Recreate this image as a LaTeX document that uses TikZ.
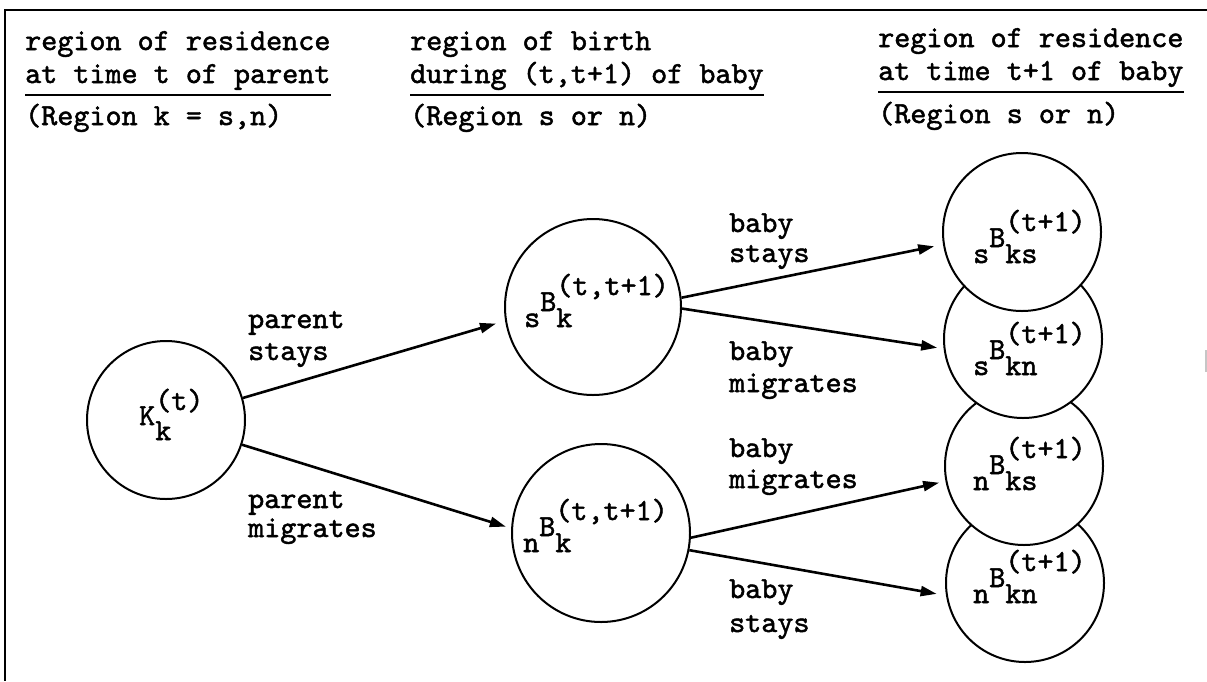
\documentclass[tikz,border=0pt]{standalone}
\usepackage{fontspec}
\newfontfamily\tw{lmmono10-regular.otf}[BoldFont=lmmono10-regular.otf,BoldFeatures={FakeBold=1.6}]
\usetikzlibrary{arrows.meta}
\newcommand\twsz{\fontsize{30.6pt}{34pt}\selectfont}
\newcommand\mybB[3]{#1\raisebox{16pt}{B\rlap{\raisebox{-16pt}{#2}}\raisebox{16pt}{#3}}}
\newcommand\myK{K\rlap{\raisebox{-15pt}{k}}\raisebox{15pt}{(t)}}
\begin{document}
\begin{tikzpicture}[x=1pt,y=-1pt,
  txt/.style={font=\tw\bfseries\twsz, anchor=base west, inner sep=0pt},
  circ/.style={circle, draw, fill=white, line width=2pt, inner sep=0pt},
  arr/.style={line width=2.6pt, -{Triangle[length=16pt,width=10pt]}},
  rulel/.style={line width=2.4pt}]
\useasboundingbox (0,0) rectangle (1207,681);
\fill[white] (0,0) rectangle (1207,681);
% frame
\coordinate (ftl) at (5,10);
\coordinate (ftr) at (1207,10);
\coordinate (fbl) at (5,681);
\draw[line width=2.6pt] (ftr) -- (ftl) -- (fbl);
\coordinate (m1) at (1205.5,350);
\coordinate (m2) at (1205.5,372);
\draw[gray!45, line width=2pt] (m1) -- (m2);
% circles
\node[circ, minimum size=158pt] (K) at (166,420) {};
\node[circ, minimum size=176pt] (sB) at (593,307) {};
\node[circ, minimum size=178pt] (nB) at (601,533) {};
\node[circ, minimum size=158pt] (nBkn) at (1025,583) {};
\node[circ, minimum size=158pt] (nBks) at (1024,466) {};
\node[circ, minimum size=158pt] (sBkn) at (1023,339) {};
\node[circ, minimum size=158pt] (sBks) at (1022,232) {};
% circle labels
\node[txt] (Klab) at (139,425) {\myK};
\node[txt] (sBlab) at (524,327) {\mybB{s}{k}{(t,t+1)}};
\node[txt] (nBlab) at (523,552) {\mybB{n}{k}{(t,t+1)}};
\node[txt] (sBkslab) at (973,263) {\mybB{s}{ks}{(t+1)}};
\node[txt] (sBknlab) at (973,375) {\mybB{s}{kn}{(t+1)}};
\node[txt] (nBkslab) at (973,490) {\mybB{n}{ks}{(t+1)}};
\node[txt] (nBknlab) at (973,603) {\mybB{n}{kn}{(t+1)}};
% headers
\node[txt] (h1a) at (25,50) {region of residence};
\node[txt] (h1b) at (25,83) {at time t of parent};
\node[txt] (h1c) at (25,125) {(Region k = s,n)};
\draw[rulel] ([yshift=-12pt]h1b.base west) -- ([yshift=-12pt]h1b.base east);
\node[txt] (h2a) at (410,50) {region of birth};
\node[txt] (h2b) at (410,83) {during (t,t+1) of baby};
\node[txt] (h2c) at (410,125) {(Region s or n)};
\draw[rulel] ([yshift=-12pt]h2b.base west) -- ([yshift=-12pt]h2b.base east);
\node[txt] (h3a) at (878,47) {region of residence};
\node[txt] (h3b) at (878,80) {at time t+1 of baby};
\node[txt] (h3c) at (878,123) {(Region s or n)};
\draw[rulel] ([yshift=-12pt]h3b.base west) -- ([yshift=-12pt]h3b.base east);
% edge labels
\node[txt] (l1a) at (248,328) {parent};
\node[txt] (l1b) at (248,360) {stays};
\node[txt] (l2a) at (248,508) {parent};
\node[txt] (l2b) at (248,537) {migrates};
\node[txt] (l3a) at (729,232) {baby};
\node[txt] (l3b) at (729,262) {stays};
\node[txt] (l4a) at (729,360) {baby};
\node[txt] (l4b) at (729,392) {migrates};
\node[txt] (l5a) at (729,457) {baby};
\node[txt] (l5b) at (729,488) {migrates};
\node[txt] (l6a) at (729,598) {baby};
\node[txt] (l6b) at (729,632) {stays};
% arrows
\draw[arr, shorten >=9.5pt] (K.16) -- (sB.189);
\draw[arr, shorten >=5.5pt] (K.-18) -- (nB.177);
\draw[arr, shorten >=9pt] (sB.6) -- (sBks.189);
\draw[arr, shorten >=6.5pt] (sB.-1) -- (sBkn.187);
\draw[arr, shorten >=6.5pt] (nB.-3) -- (nBks.191);
\draw[arr, shorten >=9.5pt] (nB.-11) -- (nBkn.189);
\end{tikzpicture}
\end{document}
